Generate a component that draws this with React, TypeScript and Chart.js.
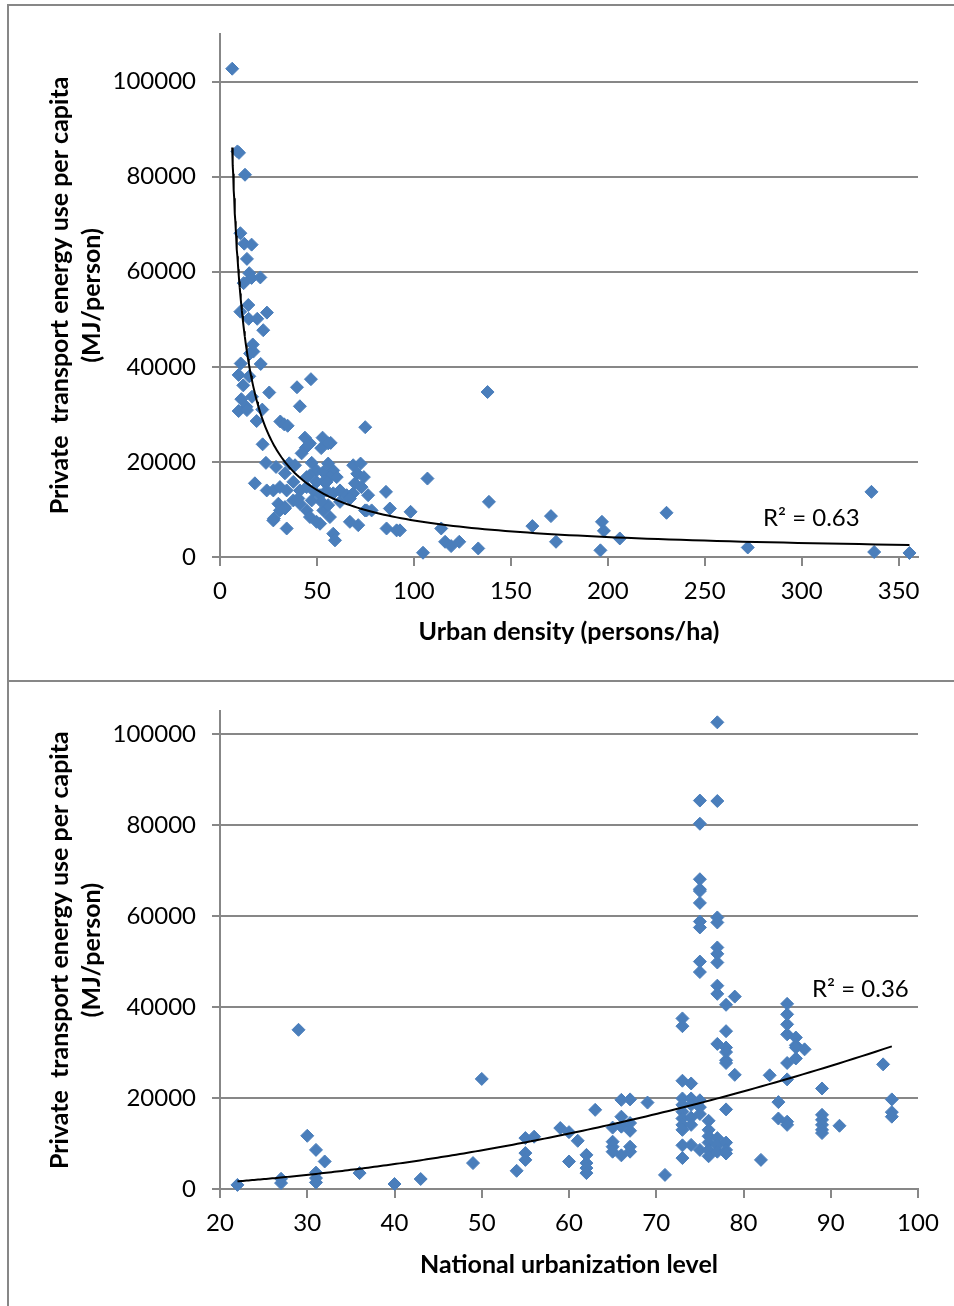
import React, { useEffect, useRef } from "react";
import { Chart, registerables } from "chart.js";

Chart.register(...registerables);

// ---------- DATA ----------
// Top chart: urban density (persons/ha) vs private transport energy use per capita (MJ/person)
const densityPoints: [number, number][] = [
  [6.3, 102700], [9, 85300], [9.8, 85000], [12.9, 80400], [10.5, 68100], [12.5, 65900], [16.3, 65700],
  [13.9, 62700], [15.1, 59700], [16.3, 58700], [20.8, 58800], [12.2, 57600], [14.6, 53000], [10.5, 51600],
  [14.8, 50100], [19.2, 50100], [24.2, 51400], [22.3, 47700], [16.9, 44700], [17.2, 43200], [15.5, 42800],
  [10.7, 40700], [21, 40600], [9.6, 38300], [15.1, 38000], [46.9, 37400], [39.7, 35700], [12, 36100],
  [25.4, 34600], [16.5, 33700], [11, 33200], [41.2, 31700], [13.6, 31600], [9.6, 30700], [13.9, 30900],
  [21.8, 31000], [18.9, 28600], [31.1, 28500], [33.1, 27900], [34.9, 27600], [74.9, 27300], [22, 23700],
  [43.8, 25100], [46.4, 23900], [44.3, 23000], [42.1, 21800], [52.9, 25100], [57.1, 24000], [52.2, 22900],
  [55.8, 23900], [45.5, 23500],
  [23.7, 19800], [28.9, 18950], [35.7, 19700], [38.7, 19300], [33.5, 17600], [18, 15500], [47.3, 19800],
  [49.8, 18200], [46.4, 17200], [53.3, 17900], [55.8, 19650], [58.4, 18200], [56.7, 16800], [60.2, 16800],
  [53.6, 15900], [68.7, 19300], [72.5, 19650], [70.8, 17500], [74.2, 16800], [69.6, 15500], [73, 14700],
  [24.1, 14000], [27.5, 14000], [30.9, 14700], [34.4, 14000], [37.8, 15800], [41.2, 14000], [44.7, 14700],
  [48.1, 14000], [51.6, 13000], [55, 14000], [58.4, 13400], [61.9, 14000], [65.3, 13000], [68.7, 13400],
  [76.4, 13000], [85.6, 13700], [49.8, 15800], [44.7, 16800], [55, 15800],
  [30.1, 11200], [33.5, 10500], [30.9, 9800], [27.5, 7700], [27.8, 8100], [34.4, 6000], [41.2, 11200],
  [44.7, 9800], [46.4, 8400], [49.8, 7400], [53.3, 9800], [55.8, 10900], [56.7, 8400], [51.6, 7000],
  [61.9, 11600], [67, 12300], [67, 7400], [71.3, 6700], [74.8, 9800], [78.2, 9800], [75.6, 9800],
  [87.6, 10200], [85.9, 6000], [91.1, 5600], [58.4, 4900], [59.3, 3500], [37.8, 11900], [40.4, 12300],
  [47.3, 11900], [52.4, 11600], [33.5, 10200],
  [138, 34700], [107, 16500], [138.7, 11600], [98.3, 9500], [92.8, 5600], [114.1, 6000], [104.7, 900],
  [116.1, 3200], [119.2, 2300], [123.4, 3200], [133.2, 1800], [161.1, 6500], [170.7, 8600], [173.3, 3200],
  [197, 7400], [198, 5500], [196.2, 1400], [206.2, 3900], [230.3, 9300], [272.2, 2000], [336, 13700],
  [337.4, 1050], [355.6, 850],
];

// Bottom chart: national urbanization level vs private transport energy use per capita
const urbanizationPoints: [number, number][] = [
  [22, 900], [27, 2250], [27, 1300], [29, 35000], [30, 11700], [31, 8600], [31, 3600], [31, 2400], [31, 1450],
  [32, 6050], [36, 3500], [40, 1100], [43, 2200], [49, 5700], [50, 24200], [54, 4000], [55, 11200], [55, 7900],
  [55, 6400], [56, 11500], [59, 13400], [60, 12500], [60, 6050], [61, 10600], [62, 7500], [62, 5700], [62, 4600],
  [62, 3500], [63, 17400], [65, 13500], [65, 10400], [65, 9300], [65, 8200], [66, 19600], [66, 15900],
  [66, 13700], [66, 7400], [67, 19700], [67, 14500], [67, 12800], [67, 9300], [67, 8200], [69, 19000], [71, 3100],
  [73, 37500], [73, 35800], [73, 23800], [73, 19900], [73, 18500], [73, 17000], [73, 15500], [73, 14100],
  [73, 13000], [73, 9600], [73, 6800],
  [74, 23200], [74, 19900], [74, 18500], [74, 15700], [74, 14100], [74, 9700],
  [75, 85400], [75, 80300], [75, 68100], [75, 65900], [75, 65500], [75, 62900], [75, 58800], [75, 57500],
  [75, 50000], [75, 47700], [75, 19500], [75, 18000], [75, 16500], [75, 8600],
  [76, 15000], [76, 13000], [76, 11600], [76, 10200], [76, 8600], [76, 7200],
  [77, 102600], [77, 85300], [77, 59700], [77, 58600], [77, 53100], [77, 51700], [77, 49800], [77, 44700],
  [77, 42900], [77, 31900], [77, 11200], [77, 9700], [77, 8200],
  [78, 40500], [78, 34700], [78, 31100], [78, 30100], [78, 28300], [78, 27700], [78, 17500], [78, 10200],
  [78, 8600], [78, 7800],
  [79, 42300], [79, 25100], [82, 6400], [83, 25000], [84, 19100], [84, 15500],
  [85, 40700], [85, 38400], [85, 36200], [85, 34000], [85, 27700], [85, 24100], [85, 14800], [85, 14100],
  [86, 33300], [86, 31600], [86, 31100], [86, 28700], [87, 30700],
  [89, 22100], [89, 16300], [89, 15200], [89, 14100], [89, 13000], [89, 12300],
  [91, 13900], [96, 27400], [97, 19700], [97, 16900], [97, 15900],
];

// Tick labels
const energyTicks = [0, 20000, 40000, 60000, 80000, 100000];
const densityTicks = [0, 50, 100, 150, 200, 250, 300, 350];
const urbanizationTicks = [20, 30, 40, 50, 60, 70, 80, 90, 100];

const yTitleLines = ["Private  transport energy use per capita", "(MJ/person)"];
const topXTitle = "Urban density (persons/ha)";
const bottomXTitle = "National urbanization level";
const topR2Text = "R² = 0.63";
const bottomR2Text = "R² = 0.36";

// ---------- STYLE ----------
const FONT = "Lato";
const GRID = "#878787";
const MARKER = "#4A7EBB";

// Excel-style power trendline fitted from the data: ln y = ln a + b ln x
function powerTrend(points: [number, number][], steps = 160) {
  const n = points.length;
  let sx = 0, sy = 0, sxx = 0, sxy = 0;
  for (const [x, y] of points) {
    const lx = Math.log(x), ly = Math.log(y);
    sx += lx; sy += ly; sxx += lx * lx; sxy += lx * ly;
  }
  const b = (n * sxy - sx * sy) / (n * sxx - sx * sx);
  const a = Math.exp((sy - b * sx) / n);
  const xs = points.map((p) => p[0]);
  const x0 = Math.min(...xs), x1 = Math.max(...xs);
  const out: { x: number; y: number }[] = [];
  for (let i = 0; i <= steps; i++) {
    const x = x0 * Math.pow(x1 / x0, i / steps);
    out.push({ x, y: a * Math.pow(x, b) });
  }
  return out;
}

const r2Plugin = {
  id: "r2label",
  afterDatasetsDraw(chart: any, _args: any, opts: any) {
    const { ctx, scales } = chart;
    ctx.save();
    ctx.font = `24px ${FONT}`;
    ctx.fillStyle = "#000";
    ctx.textAlign = "center";
    ctx.textBaseline = "middle";
    ctx.fillText(opts.text, scales.x.getPixelForValue(opts.x), scales.y.getPixelForValue(opts.y));
    ctx.restore();
  },
};

interface Cfg {
  points: [number, number][];
  xMin: number;
  xMax: number;
  xTicks: number[];
  yMax: number;
  xTitle: string;
  r2: { text: string; x: number; y: number };
  padTop: number;
  xScaleHeight: number;
  xTitlePadBottom: number;
}

function makeConfig(c: Cfg): any {
  const tickFont = { family: FONT, size: 24 };
  return {
    type: "scatter",
    data: {
      datasets: [
        {
          label: "trend",
          data: powerTrend(c.points),
          showLine: true,
          borderColor: "#000",
          borderWidth: 2,
          pointRadius: 0,
          tension: 0,
          fill: false,
        },
        {
          label: "cities",
          data: c.points.map(([x, y]) => ({ x, y })),
          pointStyle: "rectRot",
          pointRadius: 6.5,
          pointBackgroundColor: MARKER,
          pointBorderColor: MARKER,
          pointBorderWidth: 1,
          showLine: false,
          clip: false,
        },
      ],
    },
    options: {
      responsive: false,
      animation: false,
      events: [],
      layout: { padding: { left: 0, right: 36, top: c.padTop, bottom: 0 } },
      plugins: {
        legend: { display: false },
        tooltip: { enabled: false },
        r2label: c.r2,
      },
      scales: {
        x: {
          type: "linear",
          min: c.xMin,
          max: c.xMax,
          bounds: "data",
          afterBuildTicks: (s: any) => {
            s.ticks = c.xTicks.map((v) => ({ value: v }));
          },
          afterFit: (s: any) => {
            s.height = c.xScaleHeight;
          },
          ticks: {
            autoSkip: false,
            maxRotation: 0,
            padding: 11,
            font: tickFont,
            color: "#000",
            callback: (v: number) => String(v),
          },
          grid: { drawOnChartArea: false, drawTicks: true, tickLength: 9, color: GRID, lineWidth: 2 },
          border: { display: true, color: GRID, width: 2 },
          title: {
            display: true,
            text: c.xTitle,
            color: "#000",
            font: { family: FONT, size: 25, weight: "bold" as const, lineHeight: 1.2 },
            padding: { top: 0, bottom: c.xTitlePadBottom },
          },
        },
        y: {
          type: "linear",
          min: 0,
          max: c.yMax,
          bounds: "data",
          afterBuildTicks: (s: any) => {
            s.ticks = energyTicks.map((v) => ({ value: v }));
          },
          afterFit: (s: any) => {
            s.width = 220;
          },
          ticks: {
            autoSkip: false,
            padding: 16,
            font: tickFont,
            color: "#000",
            callback: (v: number) => String(v),
          },
          grid: { color: GRID, lineWidth: 2, tickLength: 8, drawTicks: true },
          border: { display: true, color: GRID, width: 2 },
          title: {
            display: true,
            text: yTitleLines,
            color: "#000",
            font: { family: FONT, size: 25, weight: "bold" as const, lineHeight: 1.28 },
            padding: { top: 44, bottom: 0 },
          },
        },
      },
    },
    plugins: [r2Plugin],
  };
}

function ChartCanvas({ cfg, width, height, top }: { cfg: Cfg; width: number; height: number; top: number }) {
  const ref = useRef<HTMLCanvasElement | null>(null);
  useEffect(() => {
    if (!ref.current) return;
    const chart = new Chart(ref.current, makeConfig(cfg));
    return () => chart.destroy();
  }, []);
  return (
    <canvas
      ref={ref}
      width={width}
      height={height}
      style={{ position: "absolute", left: 0, top, width, height, display: "block" }}
    />
  );
}

const topCfg: Cfg = {
  points: densityPoints,
  xMin: 0,
  xMax: 360,
  xTicks: densityTicks,
  yMax: 110000,
  xTitle: topXTitle,
  r2: { text: topR2Text, x: 305, y: 8150 },
  padTop: 34,
  xScaleHeight: 124,
  xTitlePadBottom: 34,
};

const bottomCfg: Cfg = {
  points: urbanizationPoints,
  xMin: 20,
  xMax: 100,
  xTicks: urbanizationTicks,
  yMax: 105000,
  xTitle: bottomXTitle,
  r2: { text: bottomR2Text, x: 93.4, y: 43870 },
  padTop: 29,
  xScaleHeight: 117,
  xTitlePadBottom: 26,
};

export default function App() {
  return (
    <div style={{ position: "absolute", left: 0, top: 0, width: 954, height: 1306, background: "#fff", overflow: "hidden" }}>
      <div
        style={{
          position: "absolute",
          left: 7,
          top: 4,
          width: 947,
          height: 1302,
          borderTop: `2px solid ${GRID}`,
          borderLeft: `2px solid ${GRID}`,
          boxSizing: "border-box",
        }}
      />
      <div style={{ position: "absolute", left: 7, top: 680, width: 947, height: 2, background: GRID }} />
      <ChartCanvas cfg={topCfg} width={954} height={681} top={0} />
      <ChartCanvas cfg={bottomCfg} width={954} height={625} top={681} />
    </div>
  );
}
